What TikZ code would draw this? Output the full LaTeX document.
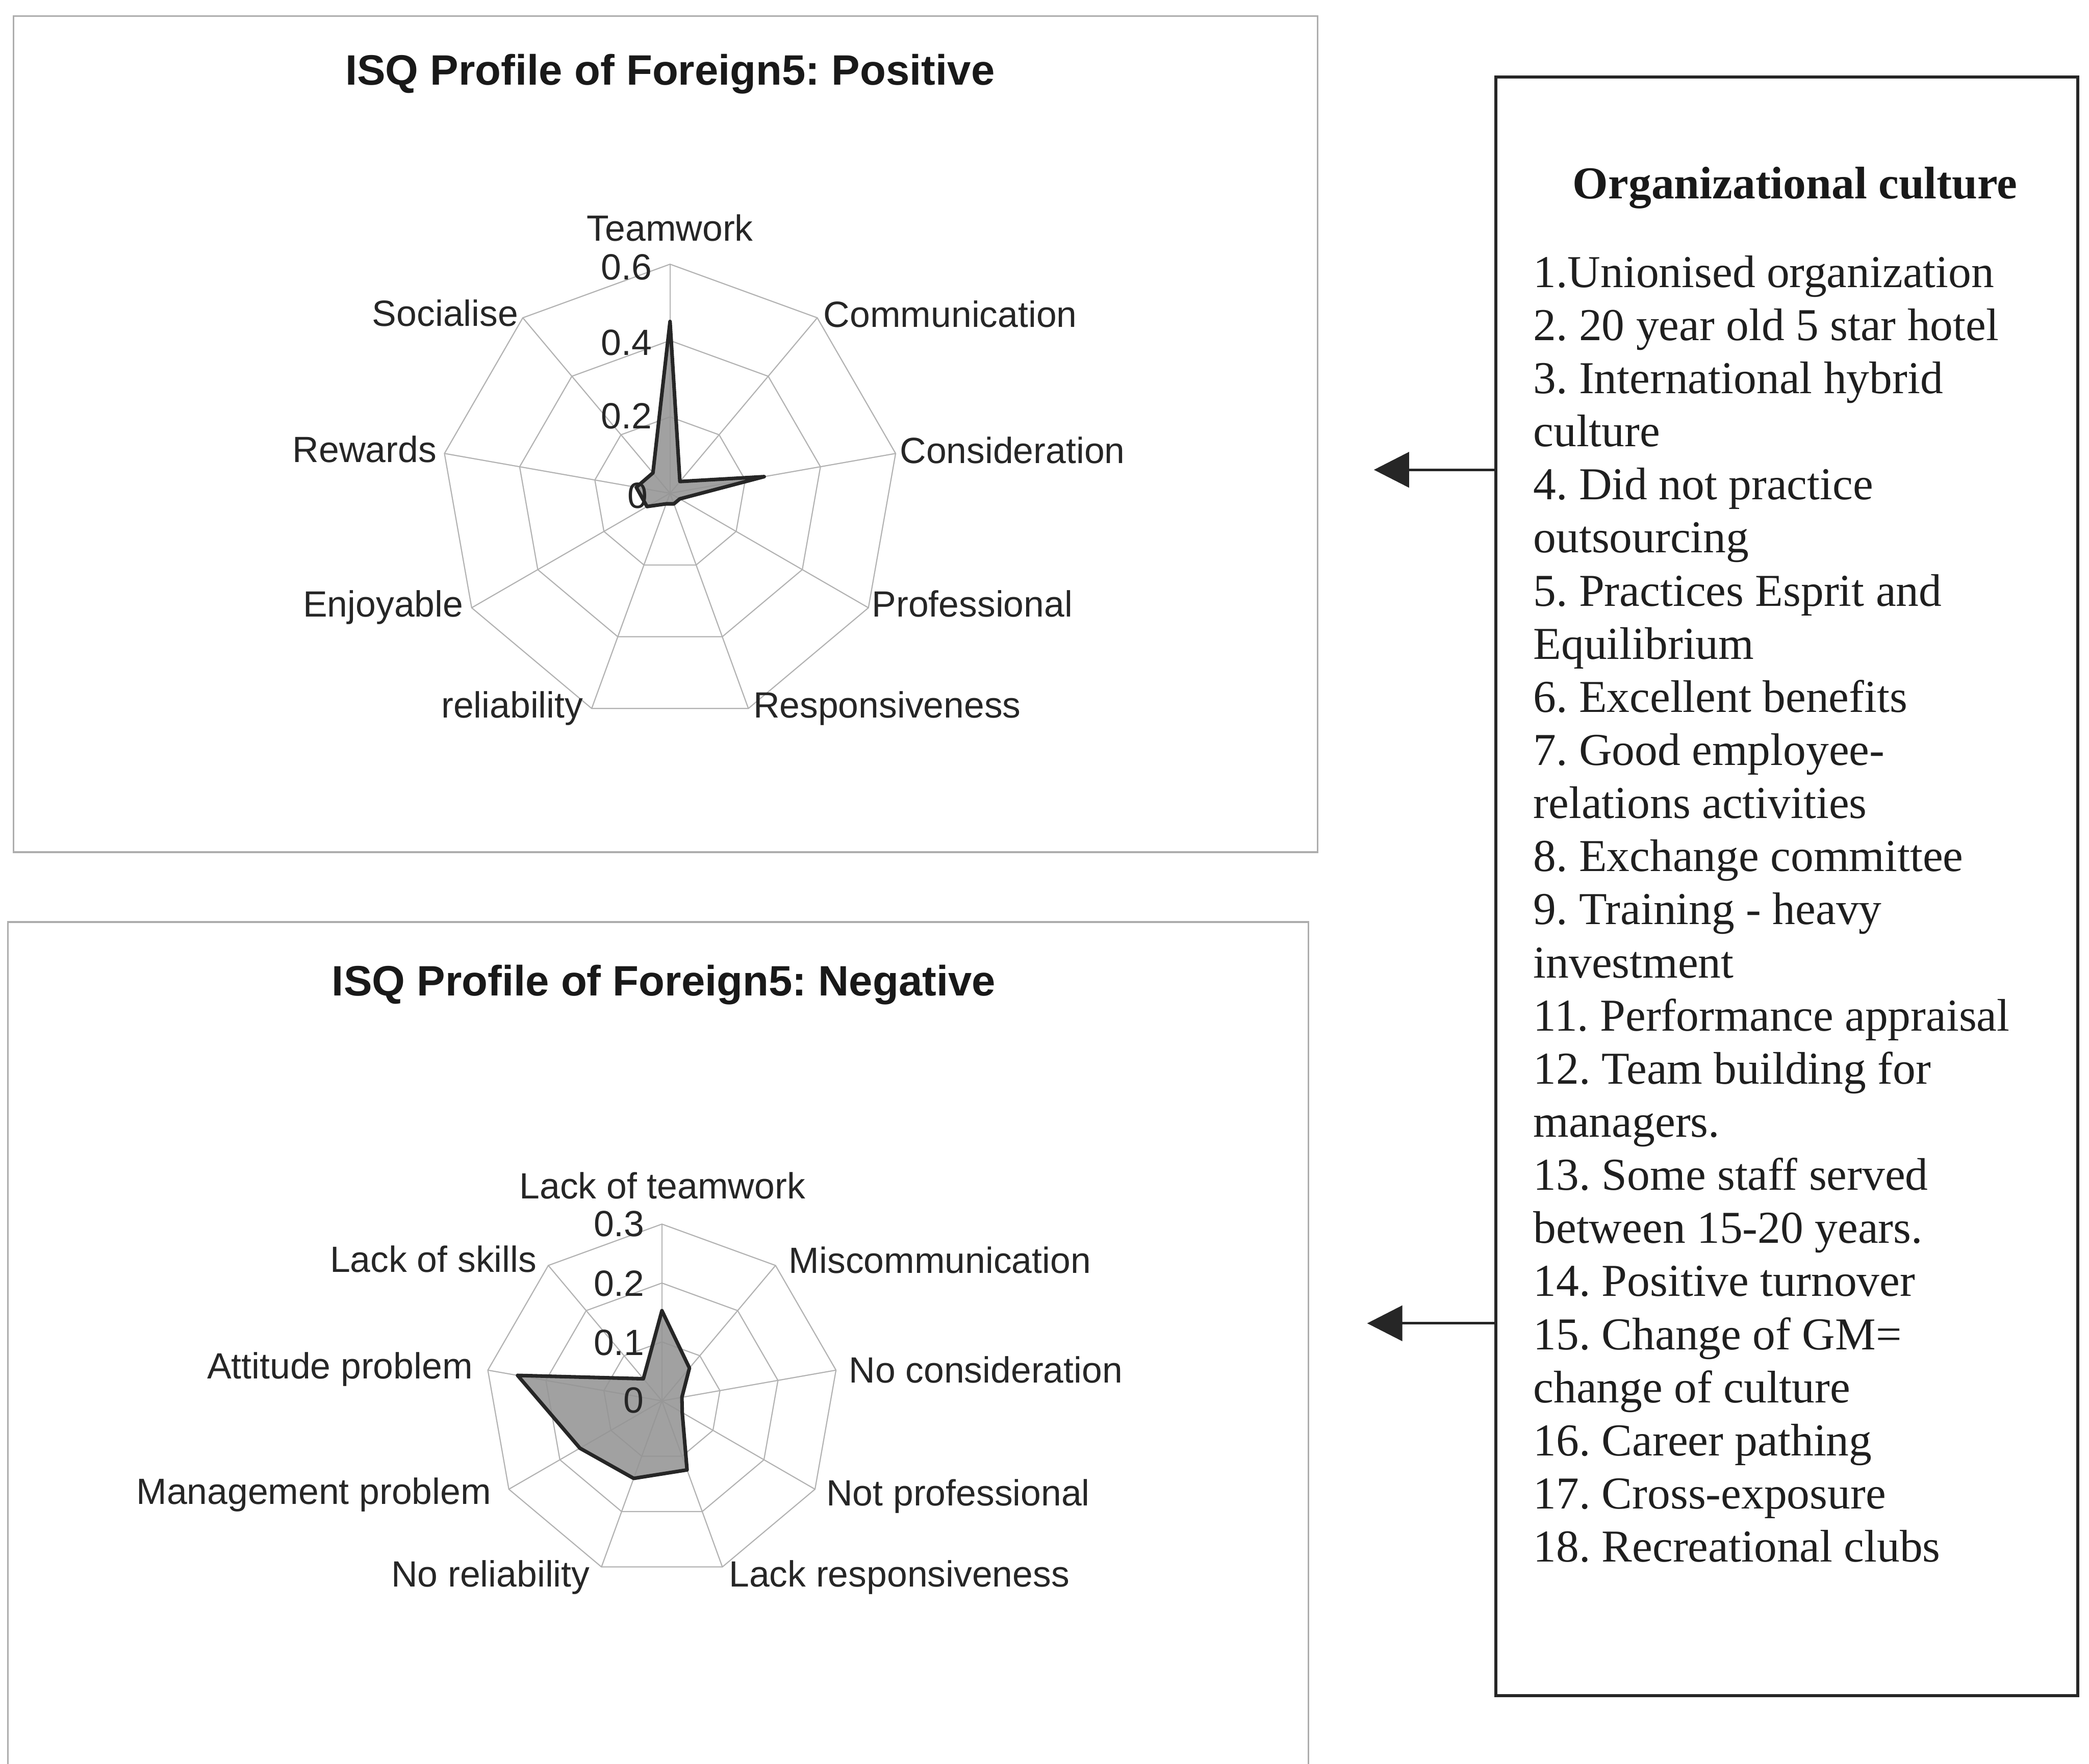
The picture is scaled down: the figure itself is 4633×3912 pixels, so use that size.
\documentclass[tikz,border=0pt]{standalone}
\usepackage{fontspec}
\setmainfont{Liberation Serif}
\newfontfamily\chartfont{Liberation Sans}
\usetikzlibrary{arrows.meta}
\frenchspacing
\begin{document}
\begin{tikzpicture}[x=0.01cm,y=-0.01cm,
  frame/.style={draw=black!32, line width=0.035cm},
  gridline/.style={draw=black!30, line width=0.025cm},
  series/.style={draw=black!85, fill=black!42, fill opacity=0.88, line width=0.08cm, line join=round},
  axislabel/.style={font=\chartfont\fontsize{23pt}{27pt}\selectfont, text=black!85, inner sep=0pt},
  charttitle/.style={font=\chartfont\bfseries\fontsize{26.8pt}{32pt}\selectfont, text=black!90, inner sep=0pt, anchor=base},
  culturebox/.style={draw=black!85, line width=0.065cm, minimum width=12.9cm, minimum height=35.88cm, inner sep=0pt},
  boxtitle/.style={font=\bfseries\fontsize{28.8pt}{33.5pt}\selectfont, text=black!90, inner sep=0pt, anchor=base},
  boxtext/.style={font=\fontsize{28.8pt}{33.5pt}\selectfont, text=black!88, inner sep=0pt, anchor=base west},
  link/.style={draw=black!85, line width=0.06cm, -{Triangle[length=0.78cm,width=0.78cm]}}
]
\useasboundingbox (0,0) rectangle (4633,3912);

% ---------- chart frames ----------
\draw[frame] (30,36) rectangle (2922,1890);
\draw[frame] (18,3912) -- (18,2045) -- (2902,2045) -- (2902,3912);

% ---------- positive profile ----------
\node[charttitle] (ptitle) at (1486,188) {ISQ Profile of Foreign5: Positive};
\begin{scope}[shift={(1486,1094)}, y=0.01cm]
  \foreach \r in {169.3,338.7,508}
    \draw[gridline] (90:\r) \foreach \a in {50,10,...,-230} {-- (\a:\r)} -- cycle;
  \foreach \a in {90,50,...,-230}
    \draw[gridline] (0,0) -- (\a:508);
  \draw[series] (90:381) -- (50:34) -- (10:212) -- (-30:25) -- (-70:25)
    -- (-110:25) -- (-150:59) -- (170:76) -- (130:59) -- cycle;
\end{scope}
\node[axislabel, anchor=base] (p1) at (1486,534) {Teamwork};
\node[axislabel, anchor=base west] (p2) at (1826,726) {Communication};
\node[axislabel, anchor=base west] (p3) at (1995,1028) {Consideration};
\node[axislabel, anchor=base west] (p4) at (1933,1368) {Professional};
\node[axislabel, anchor=base west] (p5) at (1670,1592) {Responsiveness};
\node[axislabel, anchor=base east] (p6) at (1294,1592) {reliability};
\node[axislabel, anchor=base east] (p7) at (1028,1368) {Enjoyable};
\node[axislabel, anchor=base east] (p8) at (969,1025) {Rewards};
\node[axislabel, anchor=base east] (p9) at (1150,723) {Socialise};
\node[axislabel, anchor=base east] (pt3) at (1446,620) {0.6};
\node[axislabel, anchor=base east] (pt2) at (1446,788) {0.4};
\node[axislabel, anchor=base east] (pt1) at (1446,951) {0.2};
\node[axislabel, anchor=base east] (pt0) at (1438,1127) {0};

% ---------- negative profile ----------
\node[charttitle] (ntitle) at (1472,2209) {ISQ Profile of Foreign5: Negative};
\begin{scope}[shift={(1468,3107)}, y=0.01cm]
  \foreach \r in {130.7,261.3,392}
    \draw[gridline] (90:\r) \foreach \a in {50,10,...,-230} {-- (\a:\r)} -- cycle;
  \foreach \a in {90,50,...,-230}
    \draw[gridline] (0,0) -- (\a:392);
  \draw[series] (90:200) -- (50:95) -- (10:45) -- (-30:52) -- (-70:163)
    -- (-110:183) -- (-150:210) -- (170:325) -- (130:64) -- cycle;
\end{scope}
\node[axislabel, anchor=base] (n1) at (1469,2659) {Lack of teamwork};
\node[axislabel, anchor=base west] (n2) at (1749,2824) {Miscommunication};
\node[axislabel, anchor=base west] (n3) at (1882,3067) {No consideration};
\node[axislabel, anchor=base west] (n4) at (1832,3339) {Not professional};
\node[axislabel, anchor=base west] (n5) at (1616,3519) {Lack responsiveness};
\node[axislabel, anchor=base east] (n6) at (1309,3519) {No reliability};
\node[axislabel, anchor=base east] (n7) at (1090,3336) {Management problem};
\node[axislabel, anchor=base east] (n8) at (1049,3058) {Attitude problem};
\node[axislabel, anchor=base east] (n9) at (1191,2822) {Lack of skills};
\node[axislabel, anchor=base east] (nt3) at (1430,2742) {0.3};
\node[axislabel, anchor=base east] (nt2) at (1430,2875) {0.2};
\node[axislabel, anchor=base east] (nt1) at (1430,3006) {0.1};
\node[axislabel, anchor=base east] (nt0) at (1428,3134) {0};

% ---------- organizational culture box ----------
\node[culturebox] (box) at (3963,1966) {};
\node[boxtitle] (boxhead) at (3981,440) {Organizational culture};
\foreach \t [count=\i from 0] in {
  1.Unionised organization,
  2. 20 year old 5 star hotel,
  3. International hybrid,
  culture,
  4. Did not practice,
  outsourcing,
  5. Practices Esprit and,
  Equilibrium,
  6. Excellent benefits,
  7. Good employee-,
  relations activities,
  8. Exchange committee,
  9. Training - heavy,
  investment,
  11. Performance appraisal,
  12. Team building for,
  managers.,
  13. Some staff served,
  between 15-20 years.,
  14. Positive turnover,
  15. Change of GM=,
  change of culture,
  16. Career pathing,
  17. Cross-exposure,
  18. Recreational clubs}
  \node[boxtext] (item\i) at (3400,{637+117.8*\i}) {\t};

% ---------- links to the charts ----------
\coordinate (tipA) at (3047,1042);
\coordinate (tipB) at (3032,2935);
\draw[link] (box.west |- tipA) -- (tipA);
\draw[link] (box.west |- tipB) -- (tipB);
\end{tikzpicture}
\end{document}
